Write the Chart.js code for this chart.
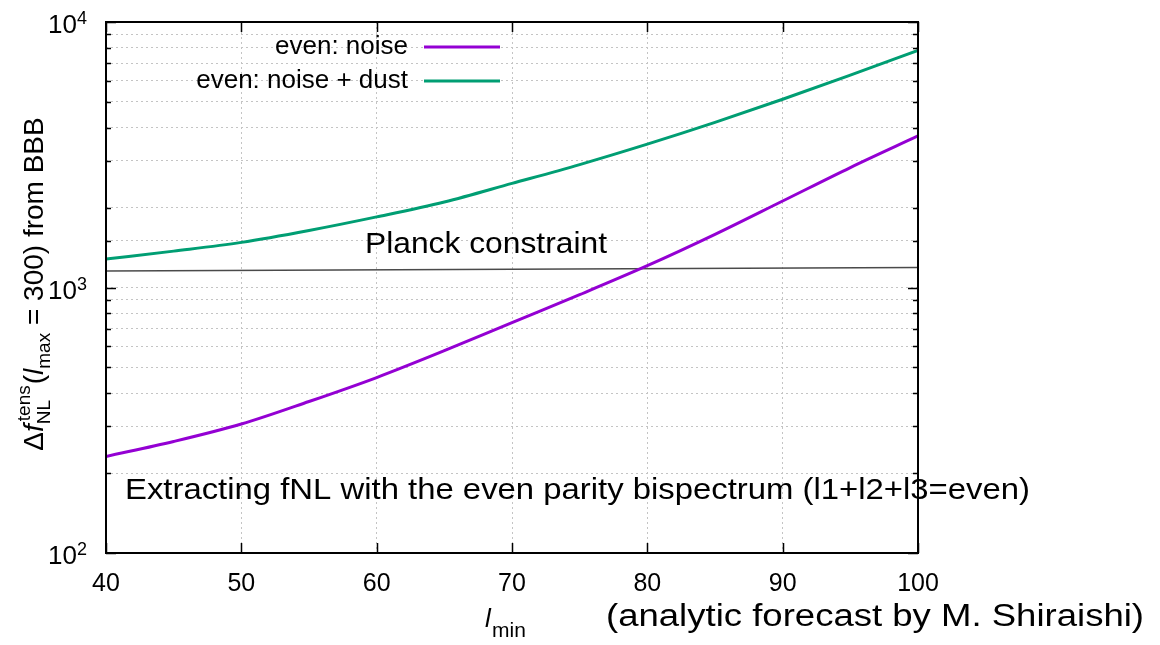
<!DOCTYPE html>
<html>
<head>
<meta charset="utf-8">
<script src="https://cdn.jsdelivr.net/npm/chart.js@4.4.1/dist/chart.umd.min.js"></script>
<style>
  html, body { margin: 0; padding: 0; background: #fff; }
  #wrap { width: 1160px; height: 645px; }
</style>
</head>
<body>
<div id="wrap"><canvas id="fnl"></canvas></div>
<script>
// l_min grid and the two forecasts
const lmin = [40, 45, 50, 55, 60, 65, 70, 75, 80, 85, 90, 95, 100];
const evenNoise = [231, 263, 306, 372, 458, 578, 738, 940, 1208, 1585, 2117, 2830, 3722];
const evenNoiseDust = [1279, 1371, 1479, 1640, 1845, 2099, 2466, 2904, 3467, 4188, 5117, 6310, 7816];
const planckL = [40, 100];
const planckVal = [1155, 1190];
const xTicks = [40, 50, 60, 70, 80, 90, 100];
const yDecades = [2, 3, 4];
const seriesNames = ["even: noise", "even: noise + dust"];
const seriesColors = ["#9400d3", "#009e73"];

const FONT = "'Liberation Sans', Arial, Helvetica, sans-serif";

function pts(xs, ys) {
  return xs.map((x, i) => ({ x: x, y: ys[i] }));
}

// draw text squeezed/stretched to a given width
function fitText(ctx, str, x, y, font, width) {
  ctx.save();
  ctx.font = font;
  const m = ctx.measureText(str).width;
  ctx.translate(x, y);
  ctx.scale(width / m, 1);
  ctx.textAlign = "left";
  ctx.textBaseline = "alphabetic";
  ctx.fillText(str, 0, 0);
  ctx.restore();
}

// gnuplot style frame, inward ticks, labels and annotations
const decor = {
  id: "decor",
  afterDraw(chart) {
    const ctx = chart.ctx;
    const a = chart.chartArea;
    const xs = chart.scales.x, ys = chart.scales.y;
    ctx.save();
    ctx.strokeStyle = "#000";
    ctx.lineWidth = 1.5;
    ctx.beginPath();
    xTicks.forEach(v => {
      const px = Math.round(xs.getPixelForValue(v)) + 0.5;
      ctx.moveTo(px, a.bottom); ctx.lineTo(px, a.bottom - 10);
      ctx.moveTo(px, a.top); ctx.lineTo(px, a.top + 10);
    });
    ys.ticks.forEach(t => {
      const py = Math.round(ys.getPixelForValue(t.value)) + 0.5;
      const major = Math.abs(Math.log10(t.value) - Math.round(Math.log10(t.value))) < 1e-9;
      const len = major ? 10 : 5;
      ctx.moveTo(a.left, py); ctx.lineTo(a.left + len, py);
      ctx.moveTo(a.right, py); ctx.lineTo(a.right - len, py);
    });
    ctx.stroke();
    ctx.lineWidth = 2;
    ctx.strokeRect(a.left, a.top, a.right - a.left, a.bottom - a.top);

    ctx.fillStyle = "#000";
    // y tick labels 10^n
    yDecades.forEach(n => {
      const py = ys.getPixelForValue(Math.pow(10, n));
      ctx.textBaseline = "alphabetic";
      ctx.font = "26px " + FONT;
      ctx.textAlign = "right";
      ctx.fillText("10", 77, py + 11);
      ctx.font = "18px " + FONT;
      ctx.textAlign = "left";
      ctx.fillText(String(n), 77, py + 2);
    });

    // y axis title with sub/superscripts
    ctx.save();
    ctx.translate(43, 284);
    ctx.rotate(-Math.PI / 2);
    ctx.textBaseline = "alphabetic";
    ctx.textAlign = "left";
    const big = "28px " + FONT, bigI = "italic 28px " + FONT, small = "19px " + FONT;
    function w(font, s) { ctx.font = font; return ctx.measureText(s).width; }
    const parts = [
      { t: "\u0394", f: big, dy: 0 },
      { t: "f", f: bigI, dy: 0 },
      { sub: "NL", sup: "tens" },
      { t: "(", f: big, dy: 0 },
      { t: "l", f: bigI, dy: 0 },
      { t: "max", f: small, dy: 7 },
      { t: " = 300) from BBB", f: big, dy: 0 }
    ];
    let total = 0;
    parts.forEach(p => {
      if (p.sub) total += Math.max(w(small, p.sub), w(small, p.sup) + 3) + 1;
      else total += w(p.f, p.t);
    });
    let cx = -total / 2;
    parts.forEach(p => {
      if (p.sub) {
        ctx.font = small;
        ctx.fillText(p.sub, cx, 7);
        ctx.fillText(p.sup, cx + 3, -13);
        cx += Math.max(w(small, p.sub), w(small, p.sup) + 3) + 1;
      } else {
        ctx.font = p.f;
        ctx.fillText(p.t, cx, p.dy);
        cx += ctx.measureText(p.t).width;
      }
    });
    ctx.restore();

    // x axis title l_min
    ctx.textAlign = "left";
    ctx.textBaseline = "alphabetic";
    ctx.font = "italic 26px " + FONT;
    ctx.fillText("l", 485, 627);
    ctx.font = "21px " + FONT;
    ctx.fillText("min", 492, 637);

    // legend, top left inside the frame
    ctx.font = "26px " + FONT;
    ctx.textAlign = "right";
    ctx.textBaseline = "middle";
    seriesNames.forEach((name, i) => {
      const ly = 47 + i * 34;
      ctx.fillStyle = "#000";
      ctx.fillText(name, 408, ly);
      ctx.strokeStyle = seriesColors[i];
      ctx.lineWidth = 3;
      ctx.beginPath();
      ctx.moveTo(424, ly); ctx.lineTo(500, ly);
      ctx.stroke();
    });

    // annotations
    ctx.fillStyle = "#000";
    fitText(ctx, "Planck constraint", 365, 253, "30px " + FONT, 242);
    fitText(ctx, "Extracting fNL with the even parity bispectrum (l1+l2+l3=even)", 125, 499, "30px " + FONT, 905);
    fitText(ctx, "(analytic forecast by M. Shiraishi)", 606, 626, "31px " + FONT, 538);
    ctx.restore();
  }
};

new Chart(document.getElementById("fnl").getContext("2d"), {
  type: "line",
  data: {
    datasets: [
      {
        label: seriesNames[0],
        data: pts(lmin, evenNoise),
        borderColor: seriesColors[0],
        borderWidth: 3,
        pointRadius: 0,
        cubicInterpolationMode: "monotone"
      },
      {
        label: seriesNames[1],
        data: pts(lmin, evenNoiseDust),
        borderColor: seriesColors[1],
        borderWidth: 3,
        pointRadius: 0,
        cubicInterpolationMode: "monotone"
      },
      {
        label: "Planck constraint",
        data: pts(planckL, planckVal),
        borderColor: "#4a4a4a",
        borderWidth: 1.5,
        pointRadius: 0
      }
    ]
  },
  options: {
    responsive: true,
    maintainAspectRatio: false,
    animation: false,
    layout: { padding: { left: 0, right: 242, top: 22, bottom: 0 } },
    plugins: {
      legend: { display: false },
      tooltip: { enabled: false }
    },
    scales: {
      x: {
        type: "linear",
        min: 40,
        max: 100,
        ticks: {
          stepSize: 10,
          color: "#000",
          font: { family: FONT, size: 25 },
          padding: 16,
          maxRotation: 0
        },
        grid: { color: "#c4c4c4", lineWidth: 1, drawTicks: false },
        border: { display: false, dash: [2, 3] },
        afterFit(s) { s.height = 92; }
      },
      y: {
        type: "logarithmic",
        min: 100,
        max: 10000,
        ticks: { display: false },
        grid: { color: "#c4c4c4", lineWidth: 1, drawTicks: false },
        border: { display: false, dash: [2, 3] },
        afterFit(s) { s.width = 106; }
      }
    }
  },
  plugins: [decor]
});
</script>
</body>
</html>
